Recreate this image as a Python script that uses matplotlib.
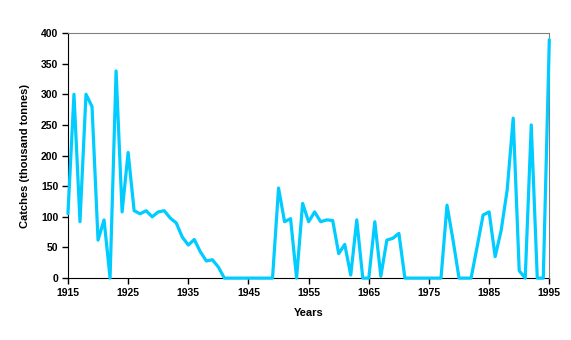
import matplotlib
matplotlib.use("Agg")
import matplotlib.pyplot as plt

years = list(range(1915, 1996))
catches = [
    105, 300, 92, 300, 280, 62, 95, 0, 338, 108,     # 1915-1924
    205, 110, 105, 110, 100, 108, 110, 98, 90, 67,   # 1925-1934
    54, 63, 43, 28, 30, 18, 0, 0, 0, 0,              # 1935-1944
    0, 0, 0, 0, 0, 147, 92, 97, 0, 122,              # 1945-1954
    92, 108, 92, 95, 94, 40, 55, 5, 95, 0,           # 1955-1964
    0, 92, 3, 62, 65, 73, 0, 0, 0, 0,                # 1965-1974
    0, 0, 0, 119, 62, 0, 0, 0, 51, 103,              # 1975-1984
    108, 35, 78, 144, 261, 12, 0, 250, 0, 0,         # 1985-1994
    389,                                             # 1995
]
xticks = list(range(1915, 1996, 10))
yticks = list(range(0, 401, 50))

plt.rcParams['font.family'] = ['Liberation Sans', 'DejaVu Sans']
plt.rcParams['font.weight'] = 'bold'

fig = plt.figure(figsize=(5.71, 3.40), dpi=100)
ax = fig.add_axes([0.119, 0.182, 0.843, 0.721])

ax.plot(years, catches, color='#00CCFF', lw=2.3, solid_joinstyle='round',
        solid_capstyle='round', clip_on=False, zorder=3)

ax.set_xlim(1915, 1995)
ax.set_ylim(0, 400)
ax.set_xticks(xticks)
ax.set_yticks(yticks)
ax.tick_params(axis='both', direction='out', length=4, width=1, labelsize=7.5, pad=3)
for lab in ax.get_xticklabels() + ax.get_yticklabels():
    lab.set_fontweight('bold')

for side in ('top', 'right'):
    ax.spines[side].set_color('#808080')
for side in ('left', 'bottom'):
    ax.spines[side].set_color('black')
    ax.spines[side].set_zorder(2)

ax.set_xlabel('Years', fontsize=8, fontweight='bold', labelpad=7)
ax.set_ylabel('Catches (thousand tonnes)', fontsize=8, fontweight='bold', labelpad=8)

fig.savefig('out.png', dpi=100)
